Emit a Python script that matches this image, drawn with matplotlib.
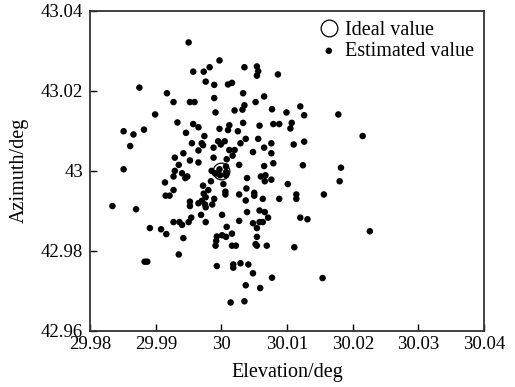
import numpy as np
import matplotlib
matplotlib.use("Agg")
import matplotlib.pyplot as plt
from matplotlib.ticker import FuncFormatter

# estimated (elevation, azimuth) samples, in degrees
elevation = [
    29.9950, 29.9997, 29.9957, 29.9973, 29.9982, 30.0035, 30.0054, 30.0056, 30.0054, 30.0086,
    29.9976, 29.9989, 30.0010, 30.0016, 29.9875, 29.9917, 30.0033, 29.9927, 29.9952, 29.9959,
    29.9989, 30.0065, 30.0052, 30.0035, 30.0032, 30.0020, 29.9991, 30.0077, 30.0099, 30.0120,
    30.0126, 29.9899, 30.0178, 29.9882, 29.9851, 29.9866, 29.9861, 29.9933, 29.9957, 29.9965,
    29.9946, 29.9997, 30.0012, 30.0010, 30.0025, 30.0033, 30.0058, 30.0079, 30.0088, 30.0107,
    30.0105, 29.9974, 29.9955, 29.9970, 29.9972, 29.9995, 30.0005, 29.9999, 29.9988, 30.0037,
    30.0029, 30.0056, 30.0076, 30.0065, 30.0110, 30.0126, 30.0215, 29.9965, 30.0012, 30.0020,
    30.0017, 30.0048, 30.0076, 29.9942, 29.9929, 29.9952, 29.9965, 29.9988, 30.0008, 30.0027,
    30.0065, 30.0079, 30.0124, 30.0182, 29.9935, 29.9929, 29.9940, 29.9851, 29.9985, 29.9990,
    29.9994, 29.9997, 29.9998, 30.0007, 30.0007, 30.0007, 29.9948, 29.9945, 29.9927, 29.9914,
    29.9984, 29.9972, 30.0003, 30.0039, 30.0060, 30.0067, 30.0066, 30.0076, 30.0101, 30.0180,
    29.9927, 29.9915, 29.9921, 29.9980, 29.9973, 29.9976, 29.9989, 30.0006, 30.0006, 30.0027,
    30.0038, 30.0050, 30.0050, 30.0037, 30.0063, 30.0088, 30.0114, 30.0114, 30.0156, 29.9952,
    29.9952, 29.9965, 29.9970, 29.9975, 29.9976, 29.9986, 29.9969, 29.9954, 29.9950, 29.9927,
    29.9936, 29.9940, 29.9976, 30.0001, 30.0039, 30.0058, 30.0066, 30.0071, 30.0027, 30.0048,
    30.0058, 30.0063, 30.0054, 30.0120, 30.0131, 29.9891, 29.9908, 29.9916, 29.9942, 30.0008,
    30.0016, 30.0001, 30.0007, 29.9993, 29.9992, 29.9991, 30.0016, 30.0022, 30.0054, 30.0052,
    30.0054, 30.0069, 30.0111, 30.0226, 29.9834, 29.9870, 29.9883, 29.9887, 29.9935, 29.9993,
    30.0018, 30.0018, 30.0029, 30.0041, 30.0048, 30.0077, 30.0154, 30.0037, 30.0059, 30.0014,
    30.0035,
]
azimuth = [
    43.0321, 43.0276, 43.0248, 43.0248, 43.0259, 43.0259, 43.0261, 43.0249, 43.0238, 43.0241,
    43.0223, 43.0215, 43.0216, 43.0220, 43.0208, 43.0194, 43.0194, 43.0172, 43.0172, 43.0172,
    43.0182, 43.0186, 43.0172, 43.0164, 43.0153, 43.0151, 43.0146, 43.0154, 43.0146, 43.0161,
    43.0139, 43.0141, 43.0141, 43.0103, 43.0099, 43.0091, 43.0062, 43.0121, 43.0117, 43.0109,
    43.0095, 43.0105, 43.0114, 43.0102, 43.0099, 43.0120, 43.0113, 43.0117, 43.0117, 43.0120,
    43.0106, 43.0087, 43.0069, 43.0069, 43.0064, 43.0074, 43.0074, 43.0066, 43.0058, 43.0080,
    43.0069, 43.0080, 43.0069, 43.0058, 43.0066, 43.0073, 43.0087, 43.0051, 43.0052, 43.0052,
    43.0038, 43.0047, 43.0044, 43.0044, 43.0033, 43.0026, 43.0021, 43.0033, 43.0029, 43.0015,
    43.0012, 43.0019, 43.0014, 43.0008, 43.0015, 43.0000, 42.9994, 43.0004, 43.0000, 42.9994,
    42.9993, 43.0004, 42.9989, 43.0011, 42.9997, 42.9989, 42.9986, 42.9982, 42.9986, 42.9971,
    42.9974, 42.9963, 42.9967, 42.9982, 42.9986, 42.9989, 42.9974, 42.9978, 42.9967, 42.9974,
    42.9952, 42.9938, 42.9938, 42.9952, 42.9943, 42.9934, 42.9930, 42.9948, 42.9941, 42.9941,
    42.9956, 42.9945, 42.9938, 42.9926, 42.9930, 42.9930, 42.9941, 42.9930, 42.9941, 42.9923,
    42.9912, 42.9919, 42.9925, 42.9916, 42.9909, 42.9916, 42.9890, 42.9883, 42.9872, 42.9872,
    42.9872, 42.9865, 42.9872, 42.9890, 42.9897, 42.9901, 42.9897, 42.9883, 42.9875, 42.9869,
    42.9872, 42.9872, 42.9857, 42.9883, 42.9879, 42.9857, 42.9854, 42.9842, 42.9832, 42.9860,
    42.9843, 42.9839, 42.9835, 42.9836, 42.9825, 42.9813, 42.9813, 42.9813, 42.9835, 42.9817,
    42.9813, 42.9813, 42.9809, 42.9849, 42.9912, 42.9904, 42.9773, 42.9773, 42.9791, 42.9762,
    42.9766, 42.9758, 42.9769, 42.9766, 42.9744, 42.9733, 42.9732, 42.9714, 42.9707, 42.9671,
    42.9674,
]
ideal = (30.0, 43.0)

x_ticks = [29.98, 29.99, 30.0, 30.01, 30.02, 30.03, 30.04]
y_ticks = [42.96, 42.98, 43.0, 43.02, 43.04]

plt.rcParams['font.family'] = ['Liberation Serif', 'DejaVu Serif']

fig = plt.figure(figsize=(5.15, 3.87), dpi=100)
ax = fig.add_axes([0.175, 0.145, 0.765, 0.827])

ax.plot(ideal[0], ideal[1], 'o', mfc='none', mec='black', ms=12, mew=0.9,
        label='Ideal value', zorder=3)
ax.scatter(elevation, azimuth, s=22, c='black', edgecolors='none',
           label='Estimated value', zorder=2)

ax.set_xlim(29.98, 30.04)
ax.set_ylim(42.96, 43.04)
ax.set_xticks(x_ticks)
ax.set_yticks(y_ticks)
fmt = FuncFormatter(lambda v, p: ('%.2f' % v).rstrip('0').rstrip('.'))
ax.xaxis.set_major_formatter(fmt)
ax.yaxis.set_major_formatter(fmt)
ax.tick_params(direction='in', length=5, width=1, labelsize=13.5,
               top=False, right=False)
ax.tick_params(axis='x', pad=4)
ax.tick_params(axis='y', pad=5)
for sp in ax.spines.values():
    sp.set_linewidth(1.3)
    sp.set_color('#333333')

ax.set_xlabel('Elevation/deg', fontsize=14.5, labelpad=7)
ax.set_ylabel('Azimuth/deg', fontsize=14.5, labelpad=9)

ax.legend(loc='upper right', frameon=False, fontsize=14.5, handletextpad=0.2,
          borderaxespad=0.1, labelspacing=0.1, handlelength=1.2)

fig.savefig('out.png', dpi=100)
